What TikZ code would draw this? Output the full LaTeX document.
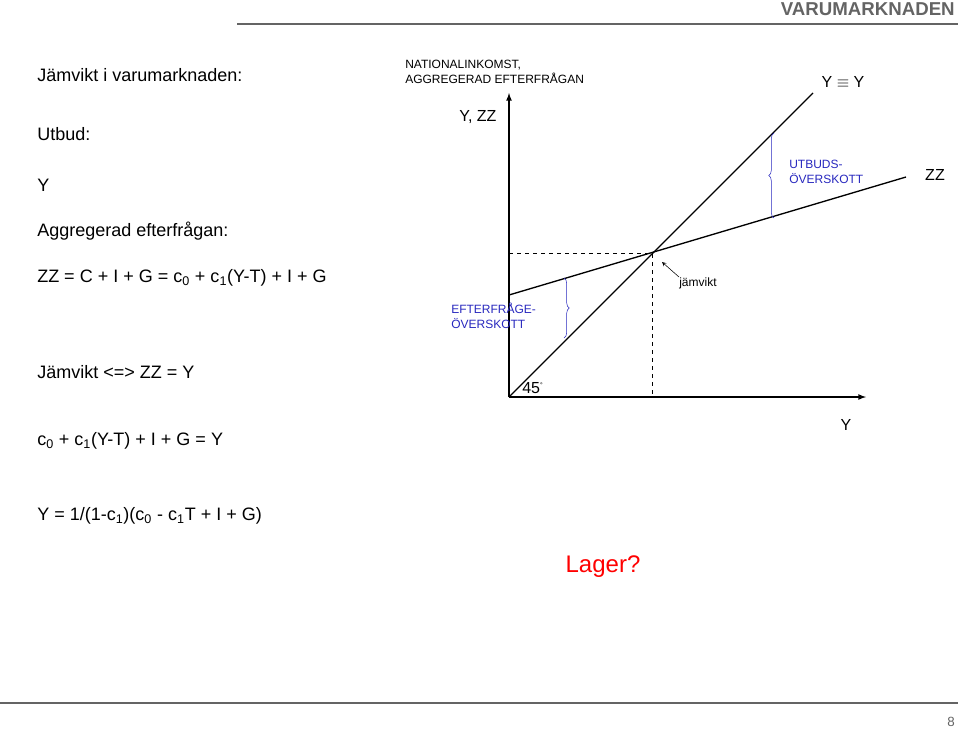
\documentclass[tikz,border=0pt]{standalone}
\usepackage{fontspec}
\setmainfont{Liberation Sans}
\usetikzlibrary{decorations.pathreplacing}
\definecolor{bracecol}{RGB}{40,40,190}
\definecolor{headgray}{RGB}{100,100,100}
\newcommand{\sbs}[1]{\textsubscript{#1}}
\tikzset{
  lefttxt/.style={anchor=west,inner sep=0.75pt,font=\fontsize{13.5}{16}\selectfont},
  smalltxt/.style={anchor=west,inner sep=0.75pt,font=\fontsize{9}{11}\selectfont,align=left},
  axtxt/.style={inner sep=0.75pt,font=\fontsize{12}{14}\selectfont},
  bluetxt/.style={smalltxt,text=bracecol},
  bracestyle/.style={draw=bracecol,decorate,decoration={brace,amplitude=4pt}}
}
\begin{document}
\begin{tikzpicture}[x=0.75pt,y=0.75pt,yscale=-1,xscale=1]
\useasboundingbox (0,0) rectangle (959,729);
% header and footer
\draw[headgray,line width=1.2pt] (237,24) -- (958,24);
\draw[headgray,line width=1.2pt] (0,703) -- (958,703);
\node[anchor=east,inner sep=0pt,text=headgray,font=\fontsize{14}{16}\selectfont\bfseries] (title) at (955,9) {VARUMARKNADEN};
\node[anchor=east,inner sep=0pt,text=headgray,font=\fontsize{10}{12}\selectfont] (page) at (955,722) {8};
% left text
\node[lefttxt] (t1) at (36,75) {Jämvikt i varumarknaden:};
\node[lefttxt] (t2) at (36,134) {Utbud:};
\node[lefttxt] (t3) at (36,185) {Y};
\node[lefttxt] (t4) at (36,231) {Aggregerad efterfrågan:};
\node[lefttxt] (t5) at (36,278) {ZZ = C + I + G = c\sbs{0} + c\sbs{1}(Y-T) + I + G};
\node[lefttxt] (t6) at (36,372) {Jämvikt <=> ZZ = Y};
\node[lefttxt] (t7) at (36,441) {c\sbs{0} + c\sbs{1}(Y-T) + I + G = Y};
\node[lefttxt] (t8) at (36,516) {Y = 1/(1-c\sbs{1})(c\sbs{0} - c\sbs{1}T + I + G)};
\node[inner sep=0.75pt,text=red,font=\fontsize{18}{20}\selectfont] (lager) at (603,567) {Lager?};
% axes
\coordinate (O) at (509,397);
\coordinate (ytop) at (509,93);
\coordinate (xend) at (866,397);
\draw[line width=1pt,-latex] (O) -- (ytop);
\draw[line width=1pt,-latex] (O) -- (xend);
\node[smalltxt] (ylab) at (404,72) {NATIONALINKOMST,\\AGGREGERAD EFTERFRÅGAN};
\node[axtxt] (yzz) at (478,117) {Y, ZZ};
\node[axtxt] (xlabel) at (846,425) {Y};
% lines
\coordinate (E) at (652,253);
\coordinate (L45) at (813,93);
\coordinate (ZZa) at (509,295);
\coordinate (ZZb) at (906,177);
\draw[line width=1pt] (O) -- (L45);
\draw[line width=1pt] (ZZa) -- (ZZb);
\draw[dashed] (509,253) -- (E) -- (652,397);
\node[axtxt] (lab45) at (843,82) {Y $\equiv$ Y};
\node[axtxt] (labzz) at (935,175) {ZZ};
\node[anchor=west,axtxt] (deg) at (521,388) {45\textsuperscript{\tiny °}};
% braces
\draw[bracestyle] (774,218) -- (774,133);
\draw[bracestyle] (564,278) -- (564,338);
\node[bluetxt] (utb) at (788,172) {UTBUDS-\\ÖVERSKOTT};
\node[bluetxt] (eft) at (450,316) {EFTERFRÅGE-\\ÖVERSKOTT};
% equilibrium
\node[smalltxt] (jv) at (678,283) {jämvikt};
\draw[-stealth] (679,277) -- (662,262);
\end{tikzpicture}
\end{document}
